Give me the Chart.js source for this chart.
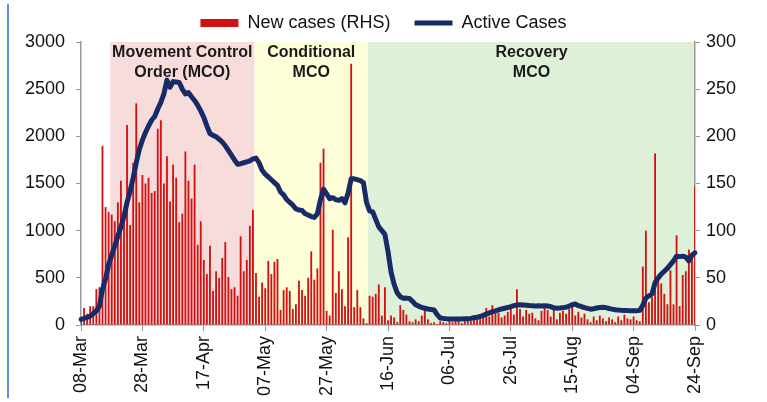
<!DOCTYPE html>
<html>
<head>
<meta charset="utf-8">
<script src="https://cdn.jsdelivr.net/npm/chart.js@4.4.1/dist/chart.umd.min.js"></script>
<style>
  html, body { margin: 0; padding: 0; background: #ffffff; }
  #wrap { position: relative; width: 767px; height: 402px; overflow: hidden; }
  #edge { position: absolute; left: 7px; top: 4px; width: 2px; height: 394px; background: #5d8fd8; }
  #c { position: absolute; left: 0; top: 0; }
</style>
</head>
<body>
<div id="wrap">
  <div id="edge"></div>
  <canvas id="c" width="767" height="402"></canvas>
</div>
<script>
// Daily dates, 08-Mar to 24-Sep (2020)
const MONTHS = ['Jan','Feb','Mar','Apr','May','Jun','Jul','Aug','Sep','Oct','Nov','Dec'];
const dates = [];
for (let i = 0; i <= 200; i++) {
  const d = new Date(2020, 2, 8 + i);
  dates.push(String(d.getDate()).padStart(2, '0') + '-' + MONTHS[d.getMonth()]);
}

// Daily new cases (right-hand scale)
const newCases = [
  6, 18, 12, 20, 20, 38, 40, 190, 125, 120,
  117, 110, 130, 153, 123, 212, 106, 172, 235, 130,
  159, 150, 156, 140, 142, 208, 217, 150, 179, 131,
  170, 156, 109, 118, 184, 153, 134, 170, 85, 110,
  69, 54, 84, 36, 57, 50, 71, 88, 51, 38,
  40, 31, 94, 57, 69, 105, 122, 55, 30, 45,
  39, 68, 54, 67, 70, 16, 37, 40, 36, 17,
  22, 47, 37, 31, 50, 78, 48, 60, 172, 187,
  15, 10, 101, 34, 57, 38, 20, 93, 277, 19,
  37, 19, 7, 2, 31, 30, 33, 43, 10, 40,
  5, 10, 8, 3, 21, 16, 11, 4, 3, 6,
  4, 10, 16, 6, 2, 3, 1, 4, 3, 2,
  5, 3, 4, 7, 2, 8, 6, 4, 10, 7,
  8, 12, 18, 9, 21, 15, 13, 8, 10, 14,
  17, 11, 38, 17, 9, 16, 12, 13, 7, 5,
  15, 18, 16, 9, 18, 6, 13, 15, 12, 17,
  21, 10, 14, 8, 12, 6, 3, 9, 5, 10,
  7, 4, 8, 6, 3, 9, 5, 11, 7, 6,
  9, 5, 4, 62, 100, 24, 30, 182, 47, 44,
  33, 22, 58, 22, 95, 20, 53, 57, 80, 71,
  147
];

// Active cases (left-hand scale)
const activeCases = [
  60, 70, 80, 95, 120, 150, 200, 380, 490, 640,
  740, 840, 940, 1040, 1150, 1300, 1420, 1560, 1720, 1860,
  1960, 2040, 2110, 2170, 2210, 2290, 2360, 2450, 2596, 2520,
  2580, 2575, 2570, 2500, 2450, 2465, 2420, 2380, 2330, 2270,
  2200, 2110, 2030, 2010, 1995, 1970, 1940, 1900, 1850, 1800,
  1750, 1705, 1710, 1720, 1730, 1740, 1760, 1770, 1720, 1640,
  1600, 1570, 1540, 1510, 1480, 1410, 1380, 1330, 1300, 1270,
  1230, 1220, 1215, 1180, 1165, 1150, 1140, 1180, 1330, 1440,
  1390, 1340, 1350, 1330, 1320, 1340, 1295, 1400, 1550, 1550,
  1540, 1530, 1510, 1300, 1210, 1200, 1120, 1040, 1000, 960,
  780, 560, 430, 340, 300, 284, 285, 280, 250, 215,
  200, 185, 178, 170, 165, 160, 110, 75, 70, 66,
  64, 64, 63, 64, 64, 65, 66, 70, 76, 82,
  90, 102, 115, 128, 142, 150, 160, 170, 178, 185,
  195, 205, 213, 214, 212, 210, 206, 204, 202, 203,
  202, 204, 202, 195, 182, 178, 180, 184, 188, 200,
  215, 222, 205, 196, 185, 176, 168, 172, 180, 186,
  188, 184, 175, 168, 162, 158, 156, 155, 153, 152,
  152, 150, 155, 210, 285, 310, 330, 450, 500, 540,
  570, 600, 640, 680, 730, 725, 730, 720, 680, 740,
  765
];

// Movement-control phases: first day of each, and their titles
const phaseStarts = ['18-Mar', '04-May', '10-Jun'];
const phaseTitles = [
  ['Movement Control', 'Order (MCO)'],
  ['Conditional', 'MCO'],
  ['Recovery', 'MCO']
];
const phaseFills = ['#f8dcdc', '#fefed9', '#dff0d8'];

const FONT = '"Liberation Sans", Arial, sans-serif';
const AXIS_GREY = '#9a9a9a';
const BAR_RED = '#d01212';
const LINE_NAVY = '#172b66';

// Shaded phase bands with their titles, painted under the axes and data
const phaseBands = {
  id: 'phaseBands',
  beforeDraw(chart) {
    const { ctx, chartArea, scales } = chart;
    const x = scales.x;
    const step = (chartArea.right - chartArea.left) / (dates.length - 1);
    ctx.save();
    phaseStarts.forEach((start, i) => {
      const x0 = x.getPixelForValue(dates.indexOf(start)) - step / 2;
      const x1 = i + 1 < phaseStarts.length
        ? x.getPixelForValue(dates.indexOf(phaseStarts[i + 1])) - step / 2
        : chartArea.right;
      ctx.fillStyle = phaseFills[i];
      ctx.fillRect(x0, chartArea.top, x1 - x0, chartArea.bottom - chartArea.top);
      ctx.fillStyle = '#1a1a1a';
      ctx.font = 'bold 16px ' + FONT;
      ctx.textAlign = 'center';
      ctx.textBaseline = 'middle';
      const cx = (x0 + x1) / 2;
      phaseTitles[i].forEach((line, k) => {
        ctx.fillText(line, cx, chartArea.top + 11 + k * 20);
      });
    });
    ctx.restore();
  }
};

const tickFont = { family: FONT, size: 18 };
const plainNumber = v => String(v);

new Chart(document.getElementById('c'), {
  data: {
    labels: dates,
    datasets: [
      {
        type: 'bar',
        label: 'New cases (RHS)',
        data: newCases,
        yAxisID: 'y1',
        backgroundColor: BAR_RED,
        borderWidth: 0,
        barPercentage: 0.6,
        categoryPercentage: 1.0,
        pointStyle: 'rect',
        order: 2
      },
      {
        type: 'line',
        label: 'Active Cases',
        data: activeCases,
        yAxisID: 'y',
        borderColor: LINE_NAVY,
        backgroundColor: LINE_NAVY,
        borderWidth: 5,
        pointRadius: 0,
        pointBorderWidth: 5,
        pointBorderColor: LINE_NAVY,
        pointStyle: 'line',
        tension: 0,
        borderJoinStyle: 'round',
        borderCapStyle: 'round',
        order: 1
      }
    ]
  },
  options: {
    responsive: false,
    animation: false,
    devicePixelRatio: 1,
    layout: { autoPadding: false, padding: { top: -10, left: 0, right: 0, bottom: 0 } },
    plugins: {
      tooltip: { enabled: false },
      legend: {
        display: true,
        position: 'top',
        reverse: true,
        maxHeight: 54,
        labels: {
          usePointStyle: true,
          pointStyleWidth: 38,
          boxHeight: 8,
          padding: 24,
          color: '#111',
          font: { family: FONT, size: 18 }
        }
      }
    },
    scales: {
      x: {
        type: 'category',
        offset: false,
        grid: { display: true, drawOnChartArea: false, drawTicks: true, tickLength: 6, color: AXIS_GREY, offset: false },
        border: { display: true, color: AXIS_GREY, width: 1.5 },
        ticks: {
          autoSkip: false, maxRotation: 90, minRotation: 90, padding: 5,
          color: '#111', font: tickFont
        },
        afterBuildTicks(scale) {
          scale.ticks = scale.ticks.filter(t => t.value % 20 === 0);
        },
        afterFit(scale) { scale.height = 77; }
      },
      y: {
        position: 'left',
        min: 0, max: 3000,
        grid: { display: true, drawOnChartArea: false, drawTicks: true, tickLength: 5, color: AXIS_GREY },
        border: { display: true, color: AXIS_GREY, width: 1.5 },
        ticks: { stepSize: 500, padding: 11, color: '#111', font: tickFont, callback: plainNumber },
        afterFit(scale) { scale.width = 81; }
      },
      y1: {
        position: 'right',
        min: 0, max: 300,
        grid: { display: true, drawOnChartArea: false, drawTicks: true, tickLength: 5, color: AXIS_GREY },
        border: { display: true, color: AXIS_GREY, width: 1.5 },
        ticks: { stepSize: 50, padding: 6, color: '#111', font: tickFont, callback: plainNumber },
        afterFit(scale) { scale.width = 72; }
      }
    }
  },
  plugins: [phaseBands]
});
</script>
</body>
</html>
